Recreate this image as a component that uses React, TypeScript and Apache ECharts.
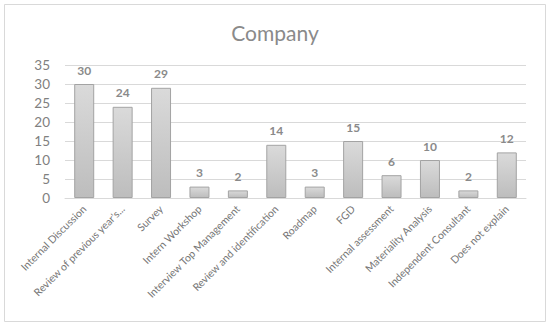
import React, { useEffect, useRef } from "react";
import * as echarts from "echarts";

const categories = [
  "Internal Discussion",
  "Review of previous year's...",
  "Survey",
  "Intern Workshop",
  "Interview Top Management",
  "Review and identification",
  "Roadmap",
  "FGD",
  "Internal assessment",
  "Materiality Analysis",
  "Independent Consultant",
  "Does not explain",
];
const values = [30, 24, 29, 3, 2, 14, 3, 15, 6, 10, 2, 12];
const yMin = 0;
const yMax = 35;
const yInterval = 5;

const FONT = "Lato, 'Open Sans', sans-serif";

export default function App() {
  const ref = useRef<HTMLDivElement>(null);
  useEffect(() => {
    if (!ref.current) return;
    const chart = echarts.init(ref.current, undefined, { renderer: "svg" });
    chart.setOption({
      animation: false,
      backgroundColor: "#ffffff",
      title: {
        text: "Company",
        left: "center",
        top: 17,
        textStyle: {
          fontFamily: FONT,
          fontSize: 21,
          fontWeight: "normal",
          color: "#8a8a8a",
        },
      },
      graphic: [
        {
          type: "rect",
          shape: { x: 4.5, y: 4.5, width: 541, height: 317 },
          style: { fill: "none", stroke: "#d9d9d9", lineWidth: 1 },
          silent: true,
        },
      ],
      grid: { left: 65, right: 24, top: 65, bottom: 128, containLabel: false },
      xAxis: {
        type: "category",
        data: categories,
        axisLine: { show: true, lineStyle: { color: "#d9d9d9" } },
        axisTick: { show: false },
        axisLabel: {
          rotate: 45,
          interval: 0,
          fontFamily: FONT,
          fontSize: 10.5,
          color: "#767676",
          margin: 9,
        },
      },
      yAxis: {
        type: "value",
        min: yMin,
        max: yMax,
        interval: yInterval,
        axisLine: { show: false },
        axisTick: { show: false },
        splitLine: { lineStyle: { color: "#d9d9d9" } },
        axisLabel: {
          fontFamily: FONT,
          fontSize: 13.5,
          color: "#808080",
          margin: 15,
        },
      },
      series: [
        {
          type: "bar",
          data: values,
          barWidth: 20,
          itemStyle: {
            color: new echarts.graphic.LinearGradient(0, 0, 0, 1, [
              { offset: 0, color: "#dadada" },
              { offset: 1, color: "#bdbdbd" },
            ]),
            borderColor: "#a3a3a3",
            borderWidth: 1,
          },
          label: {
            show: true,
            position: "top",
            distance: 8,
            fontFamily: FONT,
            fontSize: 12,
            fontWeight: "bold",
            color: "#8a8a8a",
          },
        },
      ],
    });
    return () => chart.dispose();
  }, []);
  return (
    <div
      ref={ref}
      style={{ position: "absolute", left: 0, top: 0, width: 550, height: 326 }}
    />
  );
}
